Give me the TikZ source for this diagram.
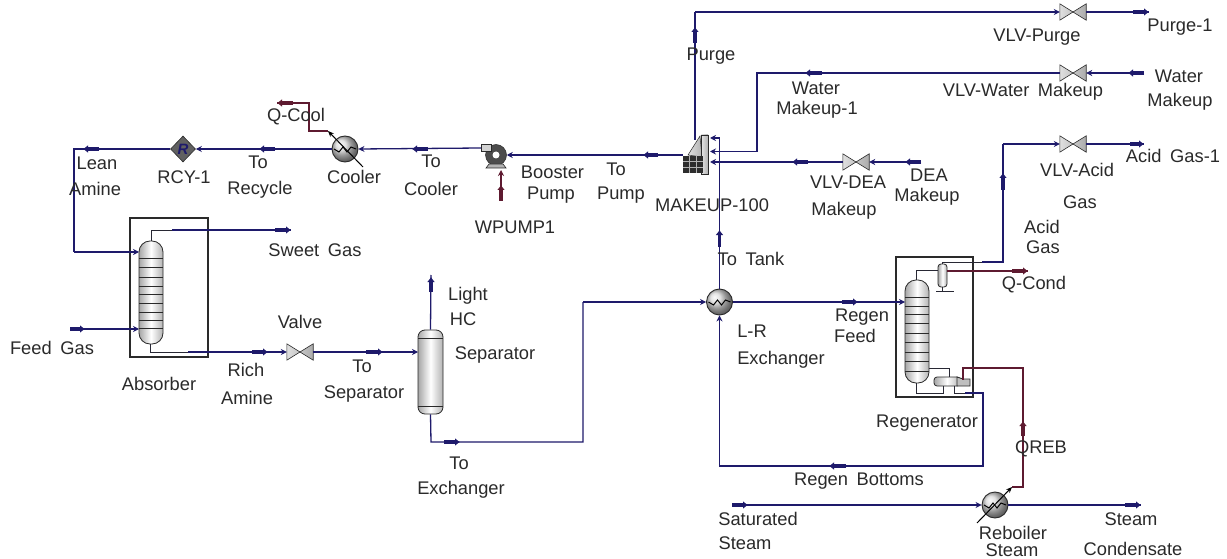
\documentclass[tikz,border=0pt]{standalone}
\usepackage{fontspec}
\setmainfont[WordSpace=1.7]{Liberation Sans}
\usetikzlibrary{arrows.meta,shapes.geometric}
\definecolor{navy}{HTML}{1E1A6B}
\definecolor{heat}{HTML}{5E1A30}
\definecolor{ink}{HTML}{2A2A2A}
\tikzset{
  x=1pt,y=-1pt,
  stream/.style={draw=navy,line width=1.3pt},
  feed/.style={stream,-{Stealth[length=6pt,width=6pt]}},
  inner/.style={draw=ink!85!navy,line width=0.9pt},
  heatline/.style={draw=heat,line width=1.4pt},
  flowmk/.style={draw=navy,line width=3.2pt,-{Latex[length=5pt,width=8pt]}},
  heatmk/.style={draw=heat,line width=3.2pt,-{Latex[length=5pt,width=8pt]}},
  lbl/.style={inner sep=0pt,text=ink,font=\fontsize{18.3}{20}\selectfont},
  box/.style={draw=ink,line width=1.3pt,fill=none,inner sep=0pt},
  vessel/.style={draw=ink,line width=0.8pt,rounded corners=#1,left color=gray!70,right color=gray!60,middle color=white,inner sep=0pt},
  valvebox/.style={inner sep=0pt,minimum width=26pt,minimum height=16pt},
  hx/.style={circle,draw=ink,line width=0.9pt,minimum size=26pt,inner sep=0pt,ball color=gray!30},
  diag/.style={draw=black,line width=1pt},
  tray/.style={draw=ink,line width=0.8pt},
}
\newcommand{\valveat}[3]{%
  \node[valvebox] (#1) at (#2,#3) {};
  \path[draw=ink,line width=0.6pt,left color=gray!25,right color=gray!65]
    (#1.north west) -- (#1.south east) -- (#1.north east) -- (#1.south west) -- cycle;}
\newcommand{\zigzag}[1]{%
  \draw[black,line width=1pt] ([xshift=-11pt]#1.center) -- ++(5,3) -- ++(4,-5) -- ++(4,5) -- ++(4,-5) -- ++(5,2);}
\begin{document}
\begin{tikzpicture}
\useasboundingbox (0,0) rectangle (1227,559);
\clip (0,0) rectangle (1227,559);
\fill[white] (0,0) rectangle (1227,559);

% ---- equipment ----
\node[box,minimum width=78pt,minimum height=139pt] (absbox) at (169,287.5) {};
\node[vessel=11pt,minimum width=24pt,minimum height=103pt] (absorber) at (151,292.5) {};
\foreach \yy in {258,267,277,286,294,303,312,320,328} \draw[tray] (139,\yy) -- (163,\yy);

\node[vessel=7pt,minimum width=25pt,minimum height=84pt] (separator) at (430.5,372) {};
\draw[tray] (418,338) -- (443,338);
\draw[tray] (418,406) -- (443,406);

\node[box,minimum width=77pt,minimum height=140pt] (regbox) at (934.5,327) {};
\node[vessel=11pt,minimum width=24pt,minimum height=103pt] (regen) at (917,331.5) {};
\foreach \yy in {297,306,314,323,333,342,352,361,371} \draw[tray] (905,\yy) -- (929,\yy);
\node[vessel=3pt,minimum width=9pt,minimum height=23pt] (cond) at (942.5,275.5) {};
\node[vessel=3pt,shading angle=90,minimum width=26pt,minimum height=9pt] (reb) at (947,381.5) {};
\draw[draw=ink,line width=0.8pt,fill=gray!50] (957,377) -- (963,379) -- (970,379) -- (970,386) -- (957,386) -- cycle;

\node[diamond,draw=ink,line width=0.6pt,fill=gray!75!black,minimum width=25pt,minimum height=26pt,inner sep=0pt,
      text=navy,font=\bfseries\itshape\fontsize{15}{15}\selectfont] (rcy) at (183,149) {R};

\node[hx] (cooler) at (345,149) {};
\node[hx] (lr) at (719.5,302) {};
\node[hx] (reboiler) at (995,505) {};

% pump
\node[circle,draw=ink,line width=0.5pt,fill=gray!60!black,minimum size=21pt,inner sep=0pt] (pump) at (496,155) {};
\fill[white] (pump.center) circle (3.5);
\draw[ink,line width=1pt,fill=gray!35] (481,145) rectangle (491,152);
\draw[ink,line width=0.6pt,fill=gray!60] (489,164) -- (503,164) -- (506,168) -- (486,168) -- cycle;

% mixer
\node[inner sep=0pt,minimum width=26pt,minimum height=38pt] (mixer) at (695,154) {};
\path[draw=ink,line width=0.5pt,left color=gray!25,right color=gray!60] (688,155) -- (700,136) -- (702,157) -- cycle;
\path[draw=ink,line width=0.5pt,left color=gray!20,right color=gray!60] (701,135) -- (708,135) -- (708,174) -- (701,174) -- cycle;
\fill[gray!35!black] (683,156) rectangle (703,173);
\foreach \xx in {689.5,696} \draw[gray!60,line width=0.7pt] (\xx,156) -- (\xx,173);
\foreach \yy in {161.5,167} \draw[gray!60,line width=0.7pt] (683,\yy) -- (703,\yy);

\valveat{vpurge}{1073}{12}
\valveat{vwater}{1073}{73}
\valveat{vdea}{856}{162}
\valveat{vacid}{1073}{144}
\valveat{vrich}{300}{352}

% ---- free ends and bends ----
\coordinate (purgeTop) at (695,12);
\coordinate (purgeEnd) at (1149,12);
\coordinate (waterStart) at (1144,73);
\coordinate (waterB1) at (757,73);
\coordinate (waterB2) at (757,151.5);
\coordinate (mixW) at (710,151.5);
\coordinate (mixT) at (710,138);
\coordinate (mixD) at (710,162);
\coordinate (tankB) at (719.5,138);
\coordinate (deaStart) at (921,162);
\coordinate (acidEnd) at (1144,144);
\coordinate (acidB1) at (1003,144);
\coordinate (acidB2) at (1003,262);
\coordinate (acidB3) at (982,262);
\coordinate (qcondEnd) at (1028,271);
\coordinate (leanB1) at (74,149);
\coordinate (leanB2) at (74,252);
\coordinate (qcoolB1) at (309,131);
\coordinate (qcoolB2) at (309,103);
\coordinate (qcoolEnd) at (277,103);
\coordinate (coolD1) at (363,167);
\coordinate (coolD2) at (328,131);
\coordinate (sweetB) at (150,230);
\coordinate (sweetIn) at (172,230);
\coordinate (sweetEnd) at (291,230);
\coordinate (richB) at (150,352);
\coordinate (richIn) at (188,352);
\coordinate (feedStart) at (70,329);
\coordinate (lightEnd) at (431,275);
\coordinate (sepB1) at (431,442);
\coordinate (sepB2) at (583,442);
\coordinate (sepB3) at (583,302);
\coordinate (wEnd) at (501,201);
\coordinate (wTip) at (501,170);
\coordinate (rbOut) at (965,393);
\coordinate (rbB1) at (983,393);
\coordinate (rbB2) at (983,466);
\coordinate (rbB3) at (719.5,466);
\coordinate (qrebB1) at (1023,487);
\coordinate (qrebB2) at (1023,368);
\coordinate (qrebB3) at (963,368);
\coordinate (qrebB4) at (963,380);
\coordinate (rebD1) at (977,523);
\coordinate (rebD2) at (1012,487);
\coordinate (satStart) at (732,505);
\coordinate (condEnd) at (1141,505);

% ---- streams ----
\draw[stream] (695,140) -- (purgeTop);
\draw[feed] (purgeTop) -- (vpurge.west);
\draw[stream] (vpurge.east) -- (purgeEnd);
\draw[feed] (waterStart) -- (vwater.east);
\draw[feed] (vwater.west) -- (waterB1) -- (waterB2) -- (mixW);
\draw[feed] (lr.north) -- (tankB) -- (mixT);
\draw[feed] (deaStart) -- (vdea.east);
\draw[feed] (vdea.west) -- (mixD);
\draw[feed] (683,155) -- (pump.east);
\draw[feed] (481,148) -- (cooler.east);
\draw[feed] (cooler.west) -- (rcy.east);
\draw[stream] (rcy.west) -- (leanB1) -- (leanB2);
\draw[feed] (leanB2) -- (139,252);
\draw[inner] (absorber.north) |- (sweetIn);
\draw[stream] (sweetIn) -- (sweetEnd);
\draw[inner] (150,344) -- (richB) -- (richIn);
\draw[feed] (richIn) -- (vrich.west);
\draw[feed] (vrich.east) -- (418,352);
\draw[feed] (feedStart) -- (139,329);
\draw[stream] (separator.north) -- (lightEnd);
\draw[stream] (separator.south) -- (sepB1) -- (sepB2) -- (sepB3);
\draw[feed] (sepB3) -- (lr.west);
\draw[feed] (lr.east) -- (905,302);
\draw[feed] (rbOut) -- (rbB1) -- (rbB2) -- (rbB3) -- (lr.south);
\draw[inner] (916,280) -- (916,270) -- (938,270);
\draw[inner] (cond.south) -- (942.5,291.7);
\draw[inner] (936,291.7) -- (954,291.7);
\draw[inner] (cond.north) -- (942.5,262) -- (acidB3);
\draw[stream] (acidB3) -- (acidB2) -- (acidB1);
\draw[feed] (acidB1) -- (vacid.west);
\draw[stream] (vacid.east) -- (acidEnd);
\draw[inner] (929,368) -- (949,368) -- (949,377);
\draw[inner] (916,383) -- (916,393) -- (943,393) -- (943,386);
\draw[inner] (954,386) -- (954,393) -- (rbOut);
\draw[feed] (satStart) -- (reboiler.west);
\draw[stream] (reboiler.east) -- (condEnd);

% ---- energy ----
\draw[heatline] (947,271) -- (qcondEnd);
\draw[heatline] (rebD2) -- (qrebB1) -- (qrebB2) -- (qrebB3) -- (qrebB4);
\draw[heatline] (coolD2) -- (qcoolB1) -- (qcoolB2) -- (qcoolEnd);
\draw[heatline,-{Stealth[length=6pt,width=6pt]}] (wEnd) -- (wTip);

% ---- hx internals ----
\zigzag{cooler}\zigzag{lr}\zigzag{reboiler}
\draw[diag,-{Stealth[length=6pt,width=5pt]}] (coolD1) -- (coolD2);
\draw[diag,-{Stealth[length=6pt,width=5pt]}] (rebD1) -- (rebD2);

% ---- flow markers ----
\foreach \xa/\xb/\yy in {1133/1149/12,1130/1144/144,275/291/230,252/268/352,366/383/352,444/460/442,842/858/302,
  732/748/505,1125/1141/505,70/85/329}
  \draw[flowmk] (\xa,\yy) -- (\xb,\yy);
\foreach \xa/\xb/\yy in {1144/1128/73,822/805/73,808/792/162,921/905/162,658/643/155,428/412/149,275/259/149,99/83/149,846/829/466}
  \draw[flowmk] (\xa,\yy) -- (\xb,\yy);
\foreach \xx/\ya/\yb in {695/43/27,719.5/247/230,1003/190/173,431/292/277}
  \draw[flowmk] (\xx,\ya) -- (\xx,\yb);
\draw[heatmk] (1012,271) -- (1028,271);
\draw[heatmk] (293,103) -- (277,103);
\draw[heatmk] (1023,436) -- (1023,421);
\draw[heatmk] (501,201) -- (501,185);

% ---- labels ----
\foreach \nm/\px/\py/\tx in {
 l1/711/56/Purge, l2/1180/27/Purge-1, l3/1037/37/VLV-Purge, l4/1179/76/Water, l5/1180/102/Makeup,
 l6/1023/92/VLV-Water Makeup, l7/816/88/Water, l8/817/110/Makeup-1, l9/296/117/Q-Cool, l10/97/163/Lean,
 l11/95/189/Amine, l12/184/177/RCY-1, l13/258/162/To, l14/260/190/Recycle, l15/354/177/Cooler,
 l16/431/161/To, l17/431/189/Cooler, l18/552.5/172/Booster, l19/551/195/Pump, l20/616/169/To,
 l21/621/195/Pump, l22/712/205/MAKEUP-100, l23/848/182/VLV-DEA, l24/844/211/Makeup, l25/929/175/DEA,
 l26/927/197/Makeup, l27/515/227/WPUMP1, l28/1077/170/VLV-Acid, l29/1080/202/Gas, l30/1042/227/Acid,
 l31/1043/247/Gas, l32/751/259/To Tank, l33/1034/285/Q-Cond, l34/315/250/Sweet Gas, l35/468/296/Light,
 l36/463/319/HC, l37/495/355/Separator, l38/52/348/Feed Gas, l39/159/384/Absorber, l40/300/322/Valve,
 l41/246/370/Rich, l42/247/398/Amine, l43/362/366/To, l44/364/394/Separator, l45/752/331/L-R,
 l46/781/360/Exchanger, l47/862/317/Regen, l48/855/336/Feed, l49/459/463/To, l50/461/490/Exchanger,
 l51/927/423/Regenerator, l52/1041/449/QREB, l53/859/481/Regen Bottoms, l54/1013/533/Reboiler,
 l55/1012/550/Steam, l56/1131/519/Steam, l57/1133/549/Condensate, l58/758/519/Saturated, l59/745/543/Steam,
 l60/1173/156/Acid Gas-1}
{ \node[lbl] (\nm) at (\px,\py) {\tx}; }
\end{tikzpicture}
\end{document}
